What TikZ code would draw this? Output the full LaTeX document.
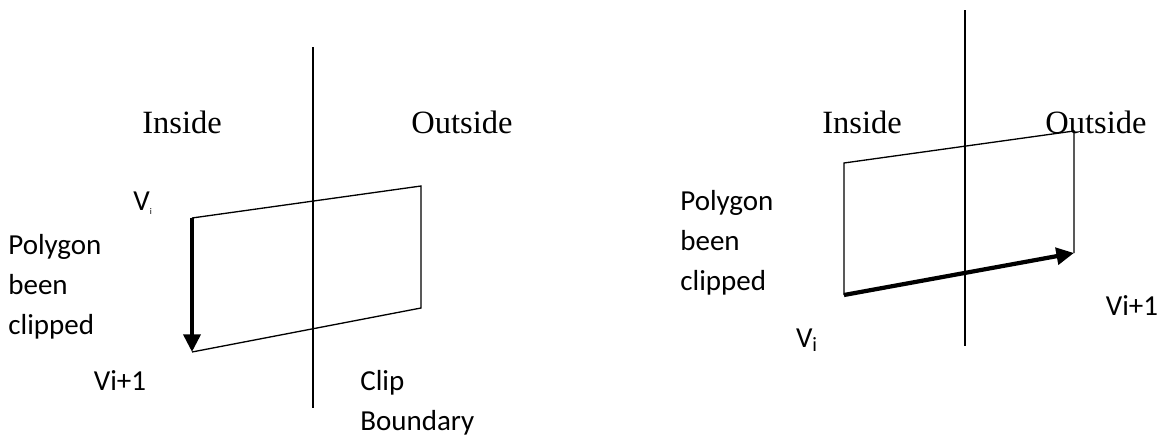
\documentclass[tikz,border=0pt]{standalone}
\usepackage{fontspec}
\setmainfont{Liberation Serif}
\newfontfamily\calibri{Carlito}
\usetikzlibrary{arrows.meta, positioning}
\tikzset{
  edge/.style={line width=0.75pt, color=black},
  clipline/.style={line width=0.8pt, color=black},
  vecarrow/.style={-{Triangle[length=10pt, width=9.5pt]}, line width=2.4pt, color=black},
  sidelabel/.style={font=\fontsize{18.5}{22}\selectfont, inner sep=0pt},
  notelabel/.style={font=\calibri\fontsize{16.5}{22.7}\selectfont, inner sep=0pt, align=left},
  vertlabel/.style={font=\calibri\fontsize{16.5}{20}\selectfont, inner sep=0pt}
}

\begin{document}
\begin{tikzpicture}[x=0.02cm, y=-0.02cm]
  \useasboundingbox (0,0) rectangle (1164,436);

  % left: edge leaving the inside
  \coordinate (lbtop) at (313,47);
  \coordinate (lbbot) at (313,408);
  \coordinate (la) at (192,218);
  \coordinate (lb) at (421,186);
  \coordinate (lc) at (421,308);
  \coordinate (ld) at (192,352);
  \draw[clipline] (lbtop) -- (lbbot);
  \draw[edge] (la) -- (lb) -- (lc) -- (ld);
  \draw[vecarrow] (la) -- (ld);

  \node[sidelabel] (linside) at (182,122) {Inside};
  \node[sidelabel] (loutside) at (462,122) {Outside};
  \node[vertlabel] (lvi) at (143,203) {V\textsubscript{\tiny i}};
  \node[vertlabel] (lvinext) at (120,381) {Vi+1};
  \node[notelabel, anchor=west] (lnote) at (8,287) {Polygon\\been\\clipped};
  \node[notelabel, anchor=north west] (lboundary) at (360,370) {Clip\\Boundary};

  % right: edge entering the outside
  \coordinate (rbtop) at (965,10);
  \coordinate (rbbot) at (965,346);
  \coordinate (ra) at (844,163);
  \coordinate (rb) at (1074,131);
  \coordinate (rc) at (1074,253);
  \coordinate (rd) at (844,295);
  \draw[clipline] (rbtop) -- (rbbot);
  \draw[edge] (rc) -- (rb) -- (ra) -- (rd);
  \draw[vecarrow] (rd) -- (rc);

  \node[sidelabel] (rinside) at (862,122) {Inside};
  \node[sidelabel] (routside) at (1096,122) {Outside};
  \node[vertlabel] (rvi) at (807,340) {V\textsubscript{i}};
  \node[vertlabel] (rvinext) at (1132,306) {Vi+1};
  \node[notelabel, anchor=west] (rnote) at (680,243) {Polygon\\been\\clipped};
\end{tikzpicture}
\end{document}
